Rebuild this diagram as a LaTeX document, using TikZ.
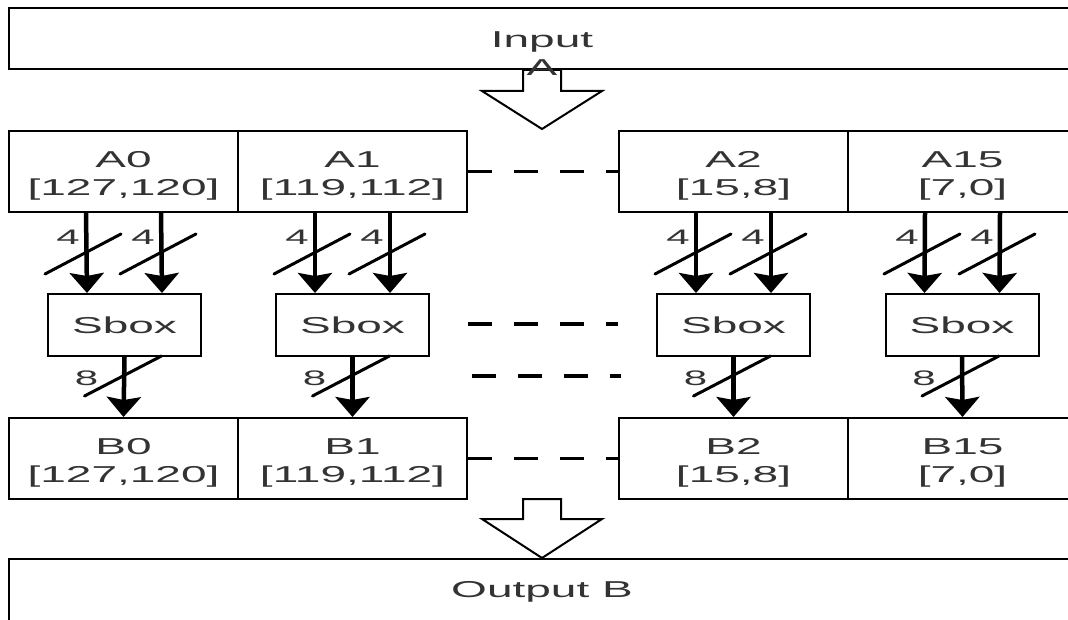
\documentclass[tikz,border=0pt]{standalone}
\usepackage{fontspec}
\setmainfont{Liberation Sans}
\usetikzlibrary{arrows.meta}
\definecolor{txt}{HTML}{333333}
\newcommand{\sx}[1]{\scalebox{2.0}[1]{#1}}
\begin{document}
\begin{tikzpicture}[x=1pt,y=-1pt,
  box/.style={draw=black, line width=2pt, minimum width=229pt, minimum height=81pt, inner sep=0pt},
  sbox/.style={draw=black, line width=2pt, minimum width=153pt, minimum height=62pt, inner sep=0pt,
    text=txt, font=\fontsize{23}{28}\selectfont},
  wide/.style={draw=black, line width=2pt, minimum width=1066pt, inner sep=0pt},
  tx/.style={align=center, inner sep=0pt, text=txt, font=\fontsize{23}{28}\selectfont},
  bus/.style={line width=4.5pt, -{Stealth[length=20pt,width=34pt,inset=3pt]}},
  slash/.style={line width=3pt, line cap=round},
  lbl/.style={text=txt, font=\fontsize{21}{21}\selectfont, inner sep=0pt},
  dots/.style={line width=3.5pt, dash pattern=on 24pt off 22pt},
  hollow/.style={draw=black, line width=2pt, fill=white, line join=miter}
]
\path[use as bounding box] (0,0) rectangle (1068,620);
\clip (0,0) rectangle (1068,620);

% input and output bars
\node[wide, minimum height=61pt] (inp) at (542,38.5) {};
\node[wide, minimum height=80pt] (out) at (542,599) {};

% hollow block arrows
\draw[hollow] (inp.south) ++(-19,0) -- ++(0,21) -- ++(-41,0) -- ++(60,38) -- ++(60,-38) -- ++(-41,0) -- ++(0,-21) -- cycle;
\draw[hollow] (out.north) -- ++(-60,-39) -- ++(41,0) -- ++(0,-20) -- ++(38,0) -- ++(0,20) -- ++(41,0) -- cycle;

\node[tx] (tin) at (542,54) {\sx{Input}\\\sx{A}};
\node[tx] (tout) at (542,592) {\sx{Output B}};

% A row
\node[box] (A0) at (123.5,171.5) {};
\node[box] (A1) at (352.5,171.5) {};
\node[box] (A2) at (733.5,171.5) {};
\node[box] (A15) at (962.5,171.5) {};
\node[tx] (tA0) at ([yshift=-4.7pt]A0.center) {\sx{A0}\\\sx{[127,120]}};
\node[tx] (tA1) at ([yshift=-4.7pt]A1.center) {\sx{A1}\\\sx{[119,112]}};
\node[tx] (tA2) at ([yshift=-4.7pt]A2.center) {\sx{A2}\\\sx{[15,8]}};
\node[tx] (tA15) at ([yshift=-4.7pt]A15.center) {\sx{A15}\\\sx{[7,0]}};

% Sbox row
\node[sbox] (S0) at (124.5,325) {\sx{Sbox}};
\node[sbox] (S1) at (352.5,325) {\sx{Sbox}};
\node[sbox] (S2) at (733.5,325) {\sx{Sbox}};
\node[sbox] (S3) at (962,325) {\sx{Sbox}};

% B row
\node[box] (B0) at (123.5,458.5) {};
\node[box] (B1) at (352.5,458.5) {};
\node[box] (B2) at (733.5,458.5) {};
\node[box] (B15) at (962.5,458.5) {};
\node[tx] (tB0) at ([yshift=-4.7pt]B0.center) {\sx{B0}\\\sx{[127,120]}};
\node[tx] (tB1) at ([yshift=-4.7pt]B1.center) {\sx{B1}\\\sx{[119,112]}};
\node[tx] (tB2) at ([yshift=-4.7pt]B2.center) {\sx{B2}\\\sx{[15,8]}};
\node[tx] (tB15) at ([yshift=-4.7pt]B15.center) {\sx{B15}\\\sx{[7,0]}};

% buses
\foreach \a/\s/\b/\k in {A0/S0/B0/0, A1/S1/B1/1, A2/S2/B2/2, A15/S3/B15/3} {
  \foreach \d/\m in {-37.5/l, 37.5/r} {
    \draw[bus] ([xshift=\d pt]\a.south) -- ([xshift=\d pt]\s.north);
    \draw[slash] ([xshift=\d pt]\a.south) ++(-41,61) -- ++(76,-40);
    \node[lbl, xshift=-18pt, yshift=-24pt] (n\k\m) at ([xshift=\d pt]\a.south) {\sx{4}};
  }
  \draw[bus] (\s.south) -- (\b.north);
  \draw[slash] (\s.south) ++(-40,39) -- ++(77,-40);
  \node[lbl, xshift=-38pt, yshift=-21pt] (m\k) at (\s.south) {\sx{8}};
}

% ellipsis dashes
\coordinate (ds1) at (468,324);
\coordinate (de1) at (618,324);
\coordinate (ds2) at (472,376);
\coordinate (de2) at (621,376);
\draw[dots] (A1.east) -- (A2.west);
\draw[dots] (ds1) -- (de1);
\draw[dots] (ds2) -- (de2);
\draw[dots] (B1.east) -- (B2.west);
\end{tikzpicture}
\end{document}
